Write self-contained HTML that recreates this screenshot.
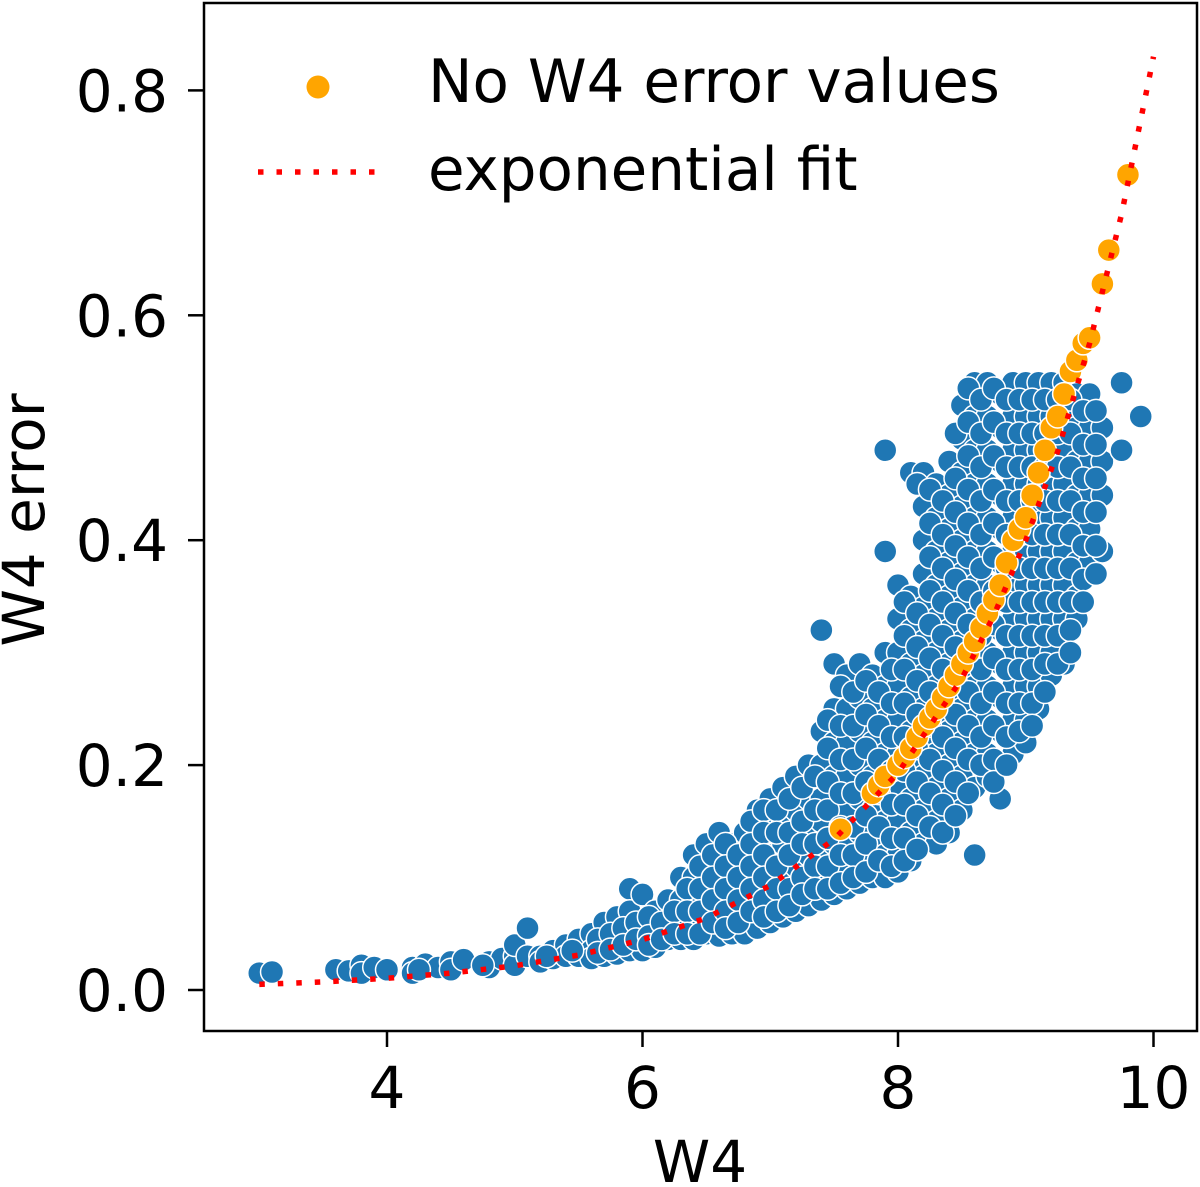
<!DOCTYPE html>
<html><head><meta charset="utf-8"><style>
html,body{margin:0;padding:0;background:#fff;}
svg{display:block;font-family:"DejaVu Sans","Liberation Sans",sans-serif;}
</style></head><body>
<svg id="chart" width="1200" height="1187" viewBox="0 0 1200 1187">
<g id="plot"></g>
<g id="axes"></g>
</svg>
<script>
// ---- data ----
const xTicks = [4, 6, 8, 10];
const xTickLabels = ["4", "6", "8", "10"];
const yTicks = [0.0, 0.2, 0.4, 0.6, 0.8];
const yTickLabels = ["0.0", "0.2", "0.4", "0.6", "0.8"];
const blueColX = [3.0,3.1,3.6,3.7,3.8,3.9,4.0,4.2,4.3,4.4,4.5,4.6,4.8,4.9,5.0,5.1,5.2,5.3,5.4,5.5,5.6,5.7,5.8,5.9,6.0,6.1,6.2,6.3,6.4,6.5,6.6,6.7,6.8,6.9,7.0,7.1,7.2,7.3,7.4,7.5,7.6,7.7,7.8,7.9,8.0,8.1,8.2,8.3,8.4,8.5,8.6,8.7,8.8,8.9,9.0,9.1,9.2,9.3,9.4,9.5,9.6,9.75,9.9];
const blueColY = [
[0.015],[0.016],[0.018],[0.017],[0.022,0.015],[0.02],[0.018],[0.02,0.015],[0.023],[0.02],[0.025,0.018],[0.027],[0.025,0.02],[0.028],
[0.03,0.022,0.04],[0.055,0.03],[0.03,0.025],[0.035,0.028],[0.04,0.03],[0.045,0.03],[0.05,0.035,0.028],[0.06,0.04,0.03],[0.065,0.045,0.032],
[0.09,0.07,0.05,0.035],[0.085,0.06,0.045,0.035],[0.07,0.05,0.038],[0.08,0.06,0.045],[0.1,0.08,0.06,0.045],[0.12,0.1,0.08,0.06,0.045],
[0.13,0.11,0.09,0.07,0.05],[0.14,0.12,0.1,0.08,0.06,0.048],[0.13,0.11,0.09,0.07,0.05],[0.14,0.12,0.1,0.08,0.06,0.05],
[0.16,0.13,0.11,0.09,0.07,0.055],[0.17,0.15,0.12,0.1,0.08,0.06],[0.18,0.15,0.13,0.1,0.08,0.065],[0.19,0.16,0.14,0.11,0.09,0.07],
[0.2,0.17,0.14,0.12,0.1,0.075],[0.32,0.23,0.2,0.17,0.15,0.12,0.1,0.08],[0.29,0.25,0.22,0.19,0.16,0.13,0.11,0.085],
[0.28,0.25,0.22,0.19,0.16,0.13,0.11,0.09],[0.29,0.26,0.23,0.2,0.17,0.14,0.12,0.095],[0.28,0.25,0.22,0.19,0.16,0.13,0.1],
[0.48,0.39,0.3,0.27,0.24,0.21,0.18,0.15,0.12,0.1],[0.36,0.33,0.3,0.27,0.24,0.21,0.18,0.15,0.12,0.105],
[0.46,0.35,0.32,0.29,0.26,0.23,0.2,0.17,0.14,0.115],[0.46,0.43,0.4,0.37,0.34,0.31,0.28,0.25,0.22,0.19,0.16,0.13],
[0.45,0.42,0.39,0.36,0.33,0.3,0.27,0.24,0.21,0.18,0.15,0.13],[0.47,0.44,0.41,0.38,0.35,0.32,0.29,0.26,0.23,0.2,0.17,0.14],
[0.52,0.49,0.46,0.43,0.4,0.37,0.34,0.31,0.28,0.25,0.22,0.19,0.16],[0.54,0.51,0.48,0.45,0.42,0.39,0.36,0.33,0.3,0.27,0.24,0.21,0.18,0.12],
[0.54,0.51,0.48,0.45,0.42,0.39,0.36,0.33,0.3,0.27,0.24,0.21,0.19],[0.53,0.5,0.47,0.44,0.41,0.38,0.35,0.32,0.29,0.26,0.23,0.2,0.17],
[0.54,0.51,0.48,0.45,0.42,0.39,0.36,0.33,0.3,0.27,0.24,0.21],[0.54,0.51,0.48,0.45,0.42,0.39,0.36,0.33,0.3,0.27,0.24,0.22],
[0.54,0.51,0.48,0.45,0.42,0.39,0.36,0.33,0.3,0.27,0.25],[0.54,0.51,0.48,0.45,0.42,0.39,0.36,0.33,0.3,0.28],
[0.54,0.51,0.48,0.45,0.42,0.39,0.36,0.33,0.29],[0.53,0.5,0.47,0.44,0.41,0.38,0.35,0.33],[0.53,0.5,0.47,0.44,0.41,0.38],
[0.5,0.47,0.44,0.39],[0.54,0.48],[0.51]
];
const blueColX2 = [4.25,4.75,5.25,5.45,5.65,5.75,5.85,5.95,6.05,6.15,6.25,6.35,6.45,6.55,6.65,6.75,6.85,6.95,7.05,7.15,7.25,7.35,7.45,7.55,7.65,7.75,7.85,7.95,8.05,8.15,8.25,8.35,8.45,8.55,8.65,8.75,8.85,8.95,9.05,9.15,9.25,9.35,9.45,9.55];
const blueColY2 = [
[0.018],[0.022],[0.03],[0.035],[0.045,0.033],[0.05,0.036],[0.055,0.04],[0.06,0.045],[0.065,0.048,0.04],[0.06,0.045],[0.07,0.05],
[0.09,0.07,0.05],[0.11,0.09,0.07,0.05],[0.12,0.1,0.08,0.06],[0.13,0.11,0.09,0.07,0.055],[0.12,0.1,0.08,0.06],[0.15,0.13,0.11,0.09,0.07],
[0.16,0.14,0.12,0.1,0.08,0.065],[0.16,0.14,0.11,0.09,0.07],[0.17,0.14,0.12,0.09,0.075],[0.18,0.15,0.13,0.1,0.085],[0.19,0.16,0.13,0.11,0.09],
[0.24,0.215,0.185,0.16,0.135,0.11,0.09],[0.27,0.235,0.205,0.175,0.145,0.12,0.095],[0.265,0.235,0.205,0.175,0.145,0.12,0.1],
[0.275,0.245,0.215,0.185,0.155,0.13,0.105],[0.265,0.235,0.205,0.175,0.145,0.115],[0.285,0.255,0.225,0.195,0.165,0.135,0.11],
[0.345,0.315,0.285,0.255,0.225,0.195,0.165,0.135,0.115],[0.45,0.335,0.305,0.275,0.245,0.215,0.185,0.155,0.125],
[0.445,0.415,0.385,0.355,0.325,0.295,0.265,0.235,0.205,0.175,0.145],[0.435,0.405,0.375,0.345,0.315,0.285,0.255,0.225,0.195,0.165,0.14],
[0.495,0.455,0.425,0.395,0.365,0.335,0.305,0.275,0.245,0.215,0.185,0.155],[0.535,0.505,0.475,0.445,0.415,0.385,0.355,0.325,0.295,0.265,0.235,0.205,0.175],
[0.525,0.495,0.465,0.435,0.405,0.375,0.345,0.315,0.285,0.255,0.225,0.2],[0.535,0.505,0.475,0.445,0.415,0.385,0.355,0.325,0.295,0.265,0.235,0.205,0.185],
[0.525,0.495,0.465,0.435,0.405,0.375,0.345,0.315,0.285,0.255,0.225,0.2],[0.525,0.495,0.465,0.435,0.405,0.375,0.345,0.315,0.285,0.255,0.23],
[0.525,0.495,0.465,0.435,0.405,0.375,0.345,0.315,0.285,0.255,0.235],[0.525,0.495,0.465,0.435,0.405,0.375,0.345,0.315,0.29,0.265],
[0.525,0.495,0.465,0.435,0.405,0.375,0.345,0.315,0.29],[0.525,0.495,0.465,0.435,0.405,0.375,0.345,0.32,0.3],
[0.515,0.485,0.455,0.425,0.395,0.365,0.345],[0.515,0.485,0.455,0.425,0.395,0.37]
];
const orangeX = [7.55,7.8,7.85,7.9,8.0,8.05,8.1,8.15,8.2,8.25,8.3,8.35,8.4,8.45,8.5,8.55,8.6,8.65,8.7,8.75,8.8,8.85,8.9,8.95,9.0,9.05,9.1,9.15,9.2,9.25,9.3,9.35,9.4,9.45,9.5,9.6,9.65,9.8];
const orangeY = [0.143,0.175,0.182,0.19,0.2,0.207,0.215,0.225,0.235,0.242,0.25,0.26,0.27,0.28,0.29,0.3,0.31,0.322,0.335,0.347,0.36,0.38,0.4,0.41,0.42,0.44,0.46,0.48,0.5,0.51,0.53,0.55,0.56,0.575,0.58,0.628,0.658,0.725];
const fitX = [3,3.5,4,4.5,5,5.5,6,6.5,7,7.5,8,8.5,8.75,9,9.25,9.5,9.75,10];
const fitY = [0.005,0.0072,0.0104,0.015,0.0215,0.031,0.0447,0.064,0.093,0.134,0.193,0.277,0.333,0.40,0.479,0.575,0.69,0.83];

// ---- scales ----
const X0 = 387, XPU = 127.75;
const Y0 = 990, YPU = 1124.5;
function sx(v){ return X0 + (v - 4) * XPU; }
function sy(v){ return Y0 - v * YPU; }
const NS = "http://www.w3.org/2000/svg";
function mk(tag, attrs, parent){ const e = document.createElementNS(NS, tag); for (const k in attrs) e.setAttribute(k, attrs[k]); parent.appendChild(e); return e; }

const plot = document.getElementById('plot');
const axes = document.getElementById('axes');
mk('clipPath', {id:'clip'}, plot);
mk('rect', {x:204, y:3, width:993, height:1028}, plot.lastChild);
const clipG = mk('g', {'clip-path':'url(#clip)'}, plot);

function drawBlue(cols, colsY){
  cols.forEach((x, i) => {
    colsY[i].forEach(y => {
      const c = mk('circle', {cx:sx(x), cy:sy(y), r:11.5, fill:'#1f77b4', stroke:'#fff', 'stroke-width':1.5}, clipG);
      
      
    });
  });
}
drawBlue(blueColX, blueColY);
drawBlue(blueColX2, blueColY2);
orangeX.forEach((x, i) => {
  const c = mk('circle', {cx:sx(x), cy:sy(orangeY[i]), r:11.5, fill:'#ffa500', stroke:'#fff', 'stroke-width':1.5}, clipG);
  
  
});
const fitPts = fitX.map((x, i) => sx(x).toFixed(1) + ',' + sy(fitY[i]).toFixed(1)).join(' ');
const fl = mk('polyline', {points:fitPts, fill:'none', stroke:'#ff0000', 'stroke-width':5.5, 'stroke-dasharray':'5.5 13'}, clipG);



const fr = mk('rect', {x:204, y:3, width:993, height:1028, fill:'none', stroke:'#000', 'stroke-width':2.5}, axes);



xTicks.forEach((t, i) => {
  mk('line', {x1:sx(t), x2:sx(t), y1:1031, y2:1047, stroke:'#000', 'stroke-width':2.5}, axes);
  const tx = mk('text', {x:sx(t), y:1108, 'font-size':58, 'text-anchor':'middle', fill:'#000'}, axes);
  tx.textContent = xTickLabels[i];
  
  
});
yTicks.forEach((t, i) => {
  mk('line', {x1:188, x2:204, y1:sy(t), y2:sy(t), stroke:'#000', 'stroke-width':2.5}, axes);
  const tx = mk('text', {x:168, y:sy(t) + 21, 'font-size':58, 'text-anchor':'end', fill:'#000'}, axes);
  tx.textContent = yTickLabels[i];
  
  
});
</script>
<svg width="1200" height="1187" style="position:absolute;left:0;top:0;font-family:'DejaVu Sans','Liberation Sans',sans-serif;">
<text x="700" y="1182" font-size="58" text-anchor="middle">W4</text>
<text x="0" y="0" font-size="58" text-anchor="middle" transform="translate(44,520) rotate(-90)">W4 error</text>
<g>
<circle cx="318" cy="87" r="11.5" fill="#ffa500"/>
<text x="428" y="102" font-size="59.5">No W4 error values</text>
<line x1="258" y1="172" x2="378" y2="172" stroke="#ff0000" stroke-width="5.5" stroke-dasharray="5.5 13"/>
<text x="428" y="190" font-size="59.5">exponential fit</text>
</g>
</svg>
</body></html>
